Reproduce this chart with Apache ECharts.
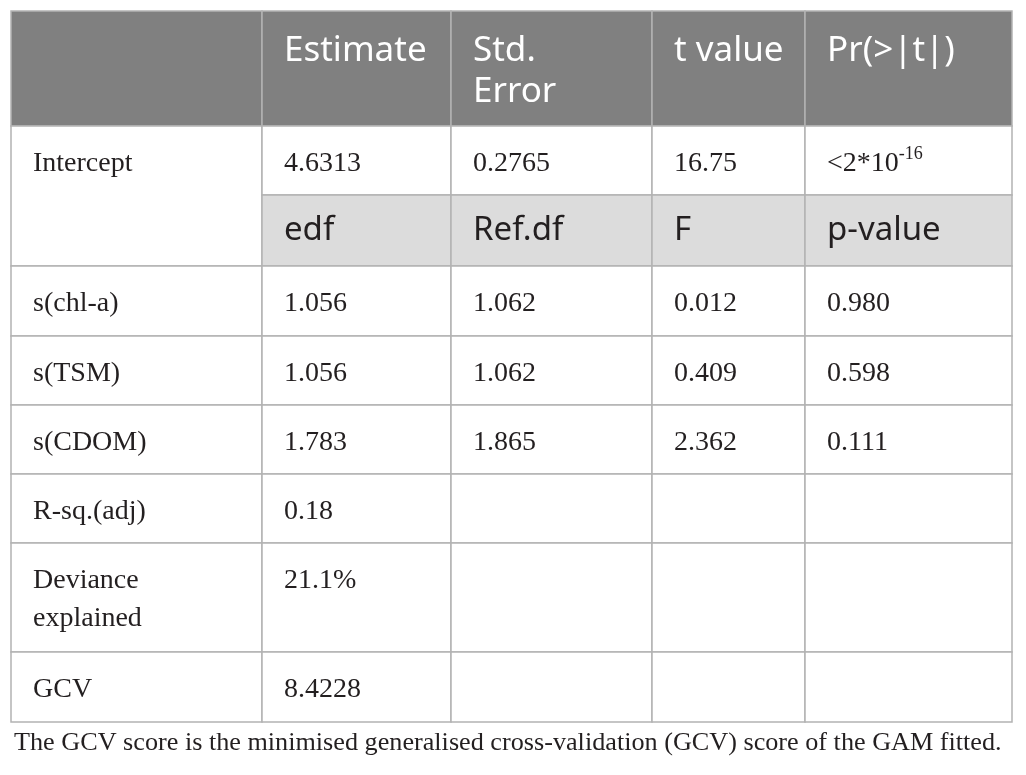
<!DOCTYPE html>
<html>
<head>
<meta charset="utf-8">
<script src="https://cdn.jsdelivr.net/npm/echarts@6/dist/echarts.min.js"></script>
<style>
  html, body { margin: 0; padding: 0; background: #fff; }
  #table-chart { width: 1026px; height: 775px; }
</style>
</head>
<body>
<div id="table-chart"></div>
<script>
// table contents
const headers = ['', 'Estimate', 'Std.\nError', 't value', 'Pr(>|t|)'];
const interceptRow = ['Intercept', '4.6313', '0.2765', '16.75', '<2*10{sup|-16}'];
const smoothHeaders = ['edf', 'Ref.df', 'F', 'p-value'];
const smoothTerms = ['s(chl-a)', 's(TSM)', 's(CDOM)'];
const edf = ['1.056', '1.056', '1.783'];
const refDf = ['1.062', '1.062', '1.865'];
const fStat = ['0.012', '0.409', '2.362'];
const pValue = ['0.980', '0.598', '0.111'];
const fitStats = ['R-sq.(adj)', 'Deviance\nexplained', 'GCV'];
const fitValues = ['0.18', '21.1%', '8.4228'];
const footnote = 'The GCV score is the minimised generalised cross-validation (GCV) score of the GAM fitted.';

// layout (axis units = pixels inside the grid)
const colEdges = [0, 251, 440, 641, 794, 1001];
const rowEdges = [0, 115, 184, 255, 325, 394, 463, 532, 641, 711];

const cells = [];
function addCell(c0, c1, r0, r1, text, kind) {
  cells.push({ c0: c0, c1: c1, r0: r0, r1: r1, text: text, kind: kind });
}

headers.forEach((h, i) => addCell(i, i + 1, 0, 1, h, 'head'));
addCell(0, 1, 1, 3, interceptRow[0], 'body');
for (let i = 1; i < 5; i++) addCell(i, i + 1, 1, 2, interceptRow[i], 'body');
smoothHeaders.forEach((h, i) => addCell(i + 1, i + 2, 2, 3, h, 'sub'));
smoothTerms.forEach((name, j) => {
  const r = 3 + j;
  [name, edf[j], refDf[j], fStat[j], pValue[j]].forEach((v, i) => addCell(i, i + 1, r, r + 1, v, 'body'));
});
fitStats.forEach((name, j) => {
  const r = 6 + j;
  [name, fitValues[j], '', '', ''].forEach((v, i) => addCell(i, i + 1, r, r + 1, v, 'body'));
});

const styles = {
  head: { fill: '#808080', color: '#ffffff', font: 'Noto Sans', size: 35, lh: 41, pad: 20 },
  sub: { fill: '#dcdcdc', color: '#231f20', font: 'Noto Sans', size: 33, lh: 38, pad: 17 },
  body: { fill: '#ffffff', color: '#231f20', font: 'Liberation Serif', size: 28, lh: 38, pad: 19 }
};

const chart = echarts.init(document.getElementById('table-chart'));

chart.setOption({
  animation: false,
  title: {
    text: footnote,
    left: 14,
    top: 730,
    padding: 0,
    textStyle: { fontFamily: 'Liberation Serif', fontSize: 26.2, fontWeight: 'normal', color: '#231f20' }
  },
  grid: { left: 11, top: 11, width: 1001, height: 711 },
  xAxis: { type: 'value', min: 0, max: 1001, show: false },
  yAxis: { type: 'value', min: 0, max: 711, inverse: true, show: false },
  series: [{
    type: 'custom',
    silent: true,
    data: cells.map((c, i) => [i]),
    renderItem: function (params, api) {
      const c = cells[params.dataIndex];
      const s = styles[c.kind];
      const p0 = api.coord([colEdges[c.c0], rowEdges[c.r0]]);
      const p1 = api.coord([colEdges[c.c1], rowEdges[c.r1]]);
      return {
        type: 'group',
        children: [{
          type: 'rect',
          shape: { x: p0[0], y: p0[1], width: p1[0] - p0[0], height: p1[1] - p0[1] },
          style: { fill: s.fill, stroke: '#b3b3b3', lineWidth: 1.5 }
        }, {
          type: 'text',
          x: p0[0] + 22,
          y: p0[1] + s.pad,
          style: {
            text: c.text,
            fill: s.color,
            fontFamily: s.font,
            fontSize: s.size,
            lineHeight: s.lh,
            align: 'left',
            verticalAlign: 'top',
            rich: {
              sup: { fontFamily: s.font, fontSize: 18, fill: s.color, verticalAlign: 'top', lineHeight: 20 }
            }
          }
        }]
      };
    }
  }]
});
</script>
</body>
</html>
